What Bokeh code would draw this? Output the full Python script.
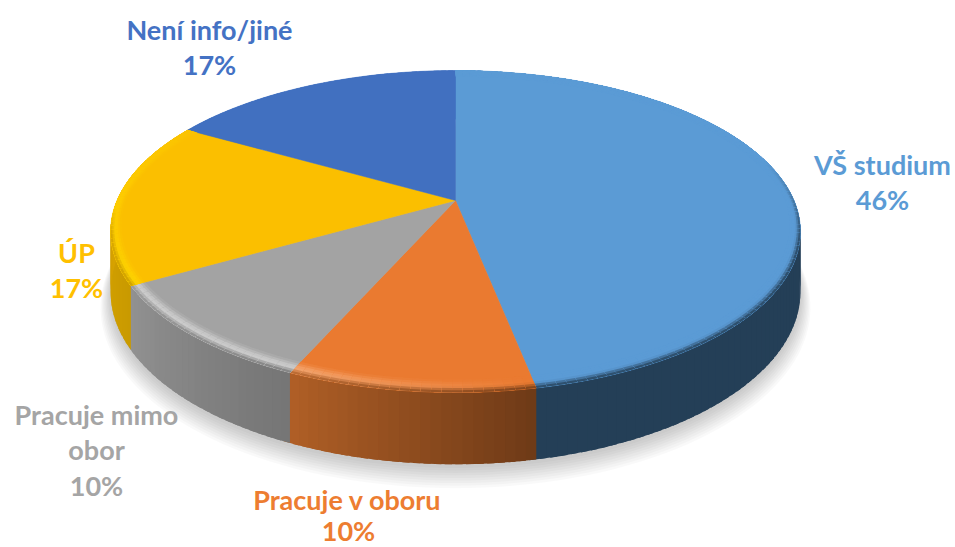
import numpy as np
from bokeh.plotting import figure
from bokeh.models import Range1d, ColumnDataSource
from bokeh.core.properties import value
from bokeh.embed import file_html
from bokeh.resources import INLINE

# Data
categories = ["VŠ studium", "Pracuje v oboru", "Pracuje mimo obor", "ÚP", "Není info/jiné"]
percent_labels = ["46%", "10%", "10%", "17%", "17%"]
# shares as the slices are actually drawn (angles)
slice_shares = [46.9, 9.7, 10.1, 16.6, 16.7]

top_colors = ["#5b9bd5", "#ea7a30", "#a3a3a3", "#fbbf00", "#4170c0"]
label_colors = ["#5b9bd5", "#ed7d31", "#a5a5a5", "#ffc000", "#4472c4"]
wall_start = ["#243f57", "#6e3a17", "#757575", "#c99a00", "#4170c0"]  # clockwise start of slice
wall_end = ["#243f57", "#b05f26", "#929292", "#e6ac00", "#4170c0"]
hl_start = ["#5b9bd5", "#ea7a30", "#d0d0d0", "#ffd500", "#4170c0"]
hl_end = ["#5b9bd5", "#f6a872", "#d0d0d0", "#fbc300", "#4170c0"]

# Label layout: (line, cx, cy, slice index)
label_lines = [
    ("VŠ studium", 882, 164, 0), ("46%", 882, 199, 0),
    ("Pracuje v oboru", 347, 499, 1), ("10%", 348, 530, 1),
    ("Pracuje mimo", 96, 414, 2), ("obor", 96, 449, 2), ("10%", 96, 485, 2),
    ("ÚP", 76, 252, 3), ("17%", 76, 287, 3),
    ("Není info/jiné", 209, 29, 4), ("17%", 209, 64, 4),
]

# Perspective model of the disc
CX, CY = 455.0, 200.0
A, B, PERSP, DEPTH = 338.5, 155.0, 0.1925, 58.0


def proj(theta, r=1.0, z=0.0):
    th = np.radians(theta)
    w = 1 + PERSP * r * np.cos(th)
    return CX + A * r * np.sin(th) / w, CY - B * r * np.cos(th) / w + z / w


def rgb(h):
    return np.array([int(h[i:i + 2], 16) for i in (1, 3, 5)], float)


def mix(a, b, t):
    c = rgb(a) * (1 - t) + rgb(b) * t
    return "#%02x%02x%02x" % tuple(int(round(v)) for v in c)


edges = np.concatenate([[0], np.cumsum(slice_shares)]) / np.sum(slice_shares) * 360.0
STEP = 1.5
OVER = 1.0

p = figure(width=955, height=547, x_range=Range1d(0, 955), y_range=Range1d(547, 0),
           output_backend="svg", toolbar_location=None, min_border=0)
p.axis.visible = False
p.grid.visible = False
p.outline_line_color = None
p.background_fill_color = "white"

# Soft shadow
ang = np.arange(0, 360, 2.0)
for i in range(9):
    x, y = proj(ang, 1.0 + 0.0035 * (8 - i), DEPTH + 3 + 1.3 * (8 - i))
    p.patch(x, y, fill_color="#000000", fill_alpha=0.022, line_color=None)

# Side wall: overlapping strips painted in order, so no seams show
wx, wy, wc = [], [], []
for k in range(5):
    a0, a1 = edges[k], edges[k + 1]
    n = max(1, int(np.ceil((a1 - a0) / STEP)))
    t = np.linspace(a0, a1, n + 1)
    for j in range(n):
        e = t[j + 1] + OVER
        xs, ys = [], []
        for aa, zz in ((t[j], 0), (e, 0), (e, DEPTH), (t[j], DEPTH)):
            xx, yy = proj(aa, 1, zz)
            xs.append(xx)
            ys.append(yy)
        wx.append(xs)
        wy.append(ys)
        wc.append(mix(wall_start[k], wall_end[k], (j + .5) / n))
p.patches(wx, wy, fill_color=wc, line_color=None)

# Top face
for k in range(5):
    t = np.arange(edges[k], edges[k + 1] + 1e-6, STEP)
    t = np.append(t, edges[k + 1])
    x, y = proj(t)
    p.patch(np.concatenate([[CX], x]), np.concatenate([[CY], y]),
            fill_color=top_colors[k], line_color=top_colors[k], line_width=0.5)

# Bevelled rim
BANDS = 6


def width(a):
    return 0.025 + 0.03 * abs(np.cos(np.radians(a)))


bx, by, bc = [], [], []
for k in range(4):
    a0, a1 = edges[k], edges[k + 1]
    n = max(1, int(np.ceil((a1 - a0) / STEP)))
    t = np.linspace(a0, a1, n + 1)
    for j in range(n):
        mid = (t[j] + t[j + 1]) / 2
        f = (j + .5) / n
        front = np.clip((mid - 75) / 30, 0, 1) * np.clip((268 - mid) / 10, 0, 1)
        wall = mix(wall_start[k], wall_end[k], f)
        light = mix(hl_start[k], hl_end[k], f)
        outer = mix(light, wall, front)
        e = min(t[j + 1] + OVER, a1) if j == n - 1 else t[j + 1] + OVER
        for b in range(BANDS):
            s0 = b / BANDS
            xa, ya = proj(t[j], 1 - width(t[j]) * (1 - s0))
            xb, yb = proj(e, 1 - width(e) * (1 - s0))
            xc, yc = proj(e, 1.0)
            xd, yd = proj(t[j], 1.0)
            bx.append([xa, xb, xc, xd])
            by.append([ya, yb, yc, yd])
            sm = s0 + 0.5 / BANDS
            col = mix(top_colors[k], light, sm / .55) if sm < .55 else mix(light, outer, (sm - .55) / .45)
            bc.append(col)
p.patches(bx, by, fill_color=bc, line_color=None)

# Labels
src = ColumnDataSource(dict(
    text=[l[0] for l in label_lines], x=[l[1] for l in label_lines], y=[l[2] for l in label_lines],
    color=[label_colors[l[3]] for l in label_lines]))
p.text("x", "y", text="text", source=src, text_color="color", text_align="center",
       text_baseline="middle", text_font=value("Lato"), text_font_style="bold", text_font_size="27px")

open("out.html", "w").write(file_html(p, INLINE))
